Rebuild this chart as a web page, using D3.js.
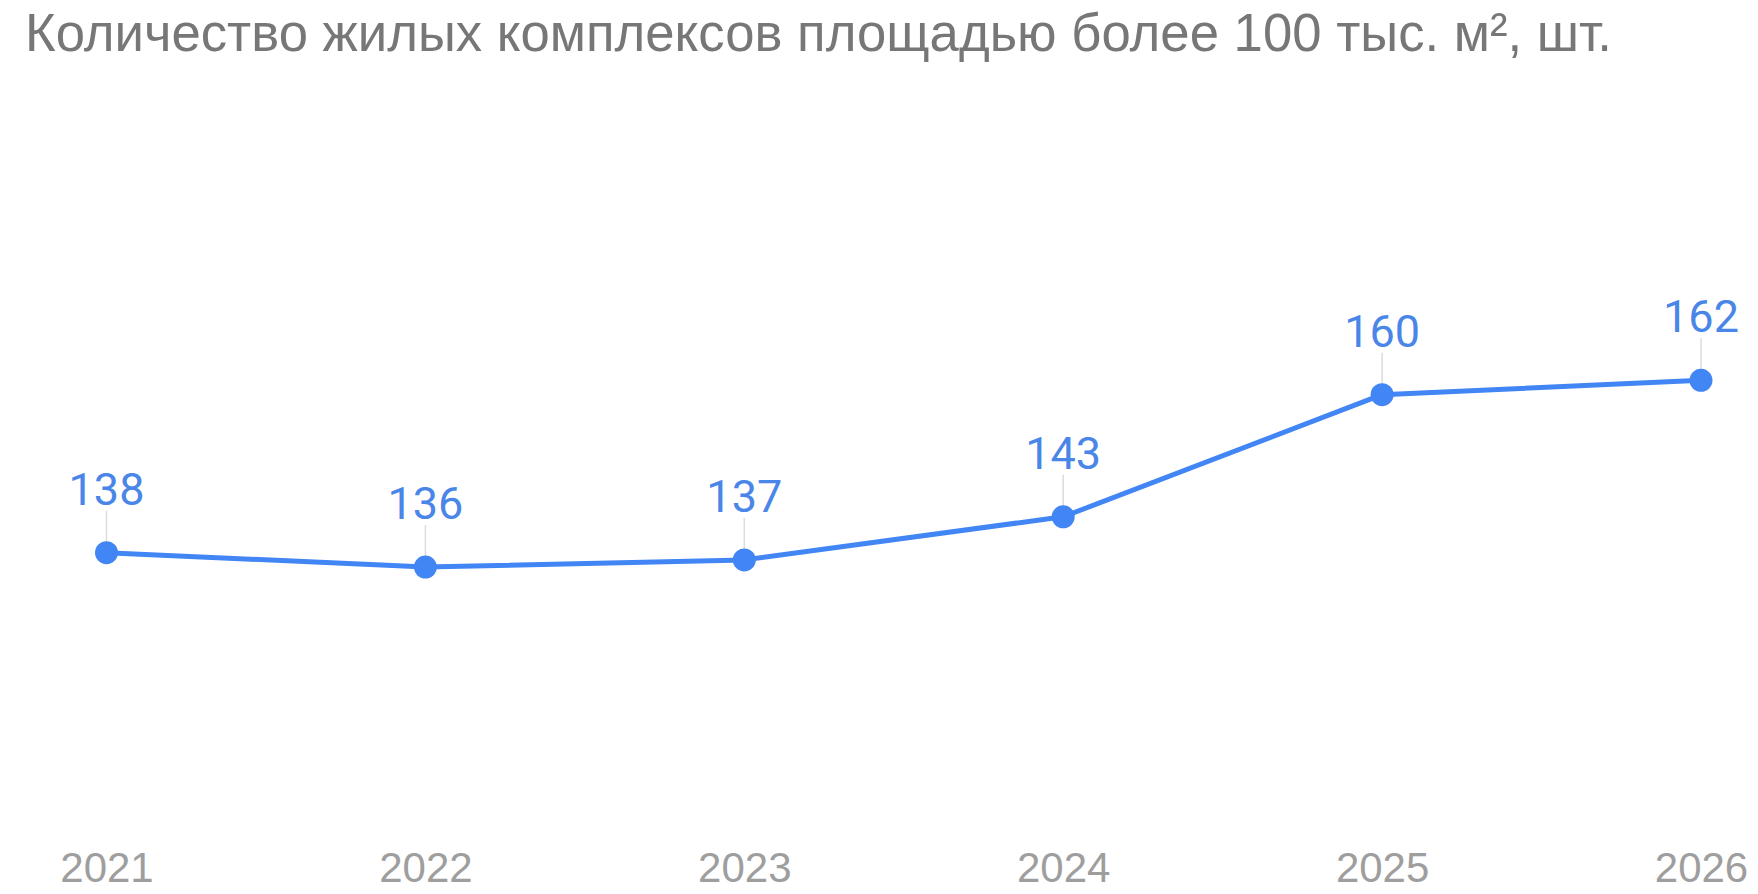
<!DOCTYPE html>
<html>
<head>
<meta charset="utf-8">
<script src="https://cdn.jsdelivr.net/npm/d3@7"></script>
<style>
  body { margin: 0; background: #fff; }
  svg { display: block; }
</style>
</head>
<body>
<div id="chart-area"></div>
<script>
// data
var years = ['2021', '2022', '2023', '2024', '2025', '2026']
var counts = [138, 136, 137, 143, 160, 162]
var title = 'Количество жилых комплексов площадью более 100 тыс. м², шт.'

var W = 1758, H = 894
var blue = '#4285f4'

var svg = d3.select('#chart-area').append('svg')
    .attr('width', W)
    .attr('height', H)

svg.append('text')
    .attr('x', 25)
    .attr('y', 51)
    .attr('font-family', "'Liberation Sans', Arial, sans-serif")
    .attr('font-size', '54px')
    .attr('fill', '#777777')
    .attr('textLength', 1587)
    .attr('lengthAdjust', 'spacingAndGlyphs')
    .text(title)

var x = d3.scalePoint().domain(years).range([106.5, 1701])
var y = d3.scaleLinear().domain([120, 180]).range([682, 251])

var data = years.map((d, i) => ({ year: d, value: counts[i] }))

// x axis labels only, no line or ticks
var xAxis = svg.append('g')
    .attr('transform', `translate(0, ${H - 12})`)
    .call(d3.axisBottom(x).tickSize(0).tickPadding(0))
xAxis.select('.domain').remove()
xAxis.selectAll('text')
    .attr('dy', 0)
    .attr('font-family', "'Liberation Sans', Arial, sans-serif")
    .attr('font-size', '42px')
    .attr('fill', '#9e9e9e')

// leader lines from label to point
svg.selectAll('.leader').data(data).enter()
  .append('line')
    .attr('class', 'leader')
    .attr('x1', d => x(d.year))
    .attr('x2', d => x(d.year))
    .attr('y1', d => y(d.value) - 42)
    .attr('y2', d => y(d.value))
    .attr('stroke', '#dcdcdc')
    .attr('stroke-width', 1.5)

var line = d3.line().x(d => x(d.year)).y(d => y(d.value))

svg.append('path')
    .datum(data)
    .attr('d', line)
    .attr('fill', 'none')
    .attr('stroke', blue)
    .attr('stroke-width', 5)
    .attr('stroke-linejoin', 'round')

svg.selectAll('.dot').data(data).enter()
  .append('circle')
    .attr('class', 'dot')
    .attr('cx', d => x(d.year))
    .attr('cy', d => y(d.value))
    .attr('r', 11.5)
    .attr('fill', blue)

svg.selectAll('.val').data(data).enter()
  .append('text')
    .attr('class', 'val')
    .attr('x', d => x(d.year))
    .attr('y', d => y(d.value) - 48)
    .attr('text-anchor', 'middle')
    .attr('font-family', 'Roboto, sans-serif')
    .attr('font-size', '45px')
    .attr('fill', '#4a86e8')
    .text(d => d.value)
</script>
</body>
</html>
